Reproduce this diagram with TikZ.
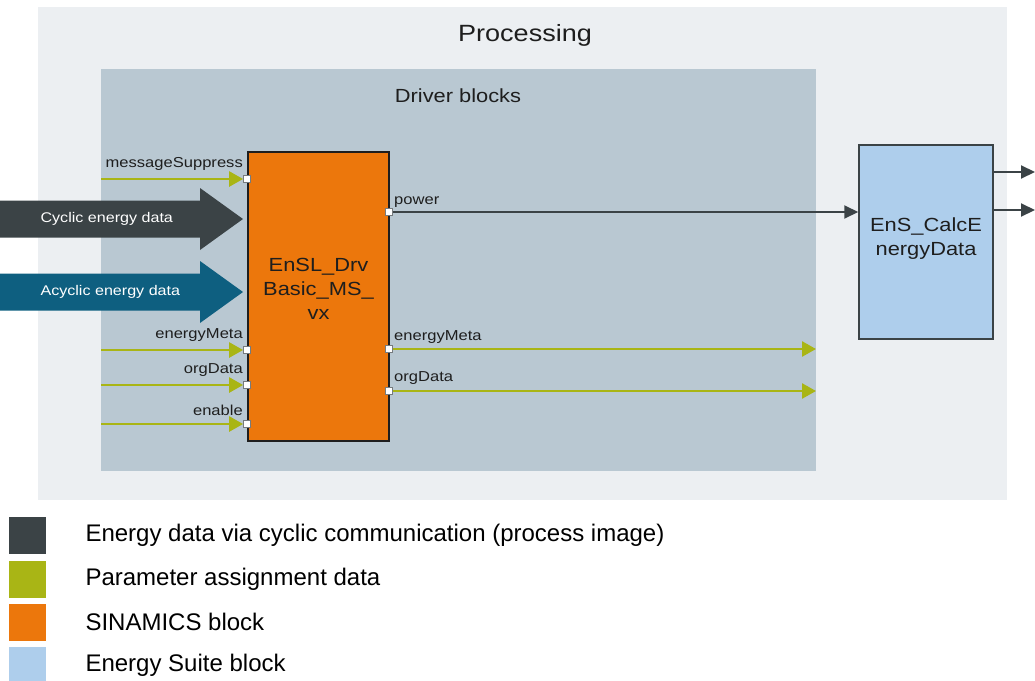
\documentclass[tikz,border=0pt]{standalone}
\usepackage{fontspec}
\setmainfont{Liberation Sans}
\newfontfamily\dfont[FakeStretch=1.15]{Liberation Sans}
\usetikzlibrary{arrows.meta,calc}
\definecolor{procbg}{HTML}{ECEFF2}
\definecolor{drvbg}{HTML}{B9C8D2}
\definecolor{darkc}{HTML}{3B4346}
\definecolor{tealc}{HTML}{0E5F80}
\definecolor{greenc}{HTML}{A9B515}
\definecolor{orangec}{HTML}{EC770C}
\definecolor{bluec}{HTML}{AECEEC}
\definecolor{textc}{HTML}{1E1E1E}
\tikzset{
  port/.style={draw=darkc!70,fill=white,line width=0.8pt,minimum size=7pt,inner sep=0pt},
  param/.style={draw=greenc,line width=2.6pt,-{Triangle[length=14pt,width=15pt]}},
  sig/.style={draw=darkc,line width=2pt,-{Triangle[length=14pt,width=13pt]}},
  lbl/.style={font=\dfont\fontsize{14.4}{16}\selectfont,text=textc,inner sep=1pt},
  blocktxt/.style={font=\dfont\fontsize{19}{24}\selectfont,text=textc,align=center},
  arrtxt/.style={font=\dfont\fontsize{14}{16}\selectfont,text=white,anchor=west},
  legsq/.style={minimum size=37pt,inner sep=0pt},
  legtxt/.style={font=\fontsize{24}{26}\selectfont,text=black,anchor=west},
}
\begin{document}
\begin{tikzpicture}[x=1pt,y=-1pt]
\useasboundingbox (0,0) rectangle (1035,680);
% Processing frame
\fill[procbg] (38,7) rectangle (1007,500);
\node[font=\dfont\fontsize{23.5}{28}\selectfont,text=textc] (proc) at (525,35) {Processing};
% Driver blocks
\fill[drvbg] (101,69) rectangle (816,471);
\node[font=\dfont\fontsize{19}{22}\selectfont,text=textc] (drvlbl) at (458,96) {Driver blocks};
% Big arrows
\fill[darkc] (0,200.5) -- (200,200.5) -- (200,188) -- (243,219) -- (200,250) -- (200,237.5) -- (0,237.5) -- cycle;
\node[arrtxt] (cyc) at (37,219) {Cyclic energy data};
\fill[tealc] (0,273.5) -- (200,273.5) -- (200,261) -- (243,292) -- (200,323) -- (200,310.5) -- (0,310.5) -- cycle;
\node[arrtxt] (acyc) at (37,292) {Acyclic energy data};
% Blocks
\node[draw=textc,line width=1.5pt,fill=orangec,minimum width=141pt,minimum height=289pt,inner sep=0pt] (drv) at (318.5,296.5) {};
\node[blocktxt] at (318.5,289) {EnSL\_Drv\\Basic\_MS\_\\vx};
\node[draw=darkc,line width=1.5pt,fill=bluec,minimum width=134pt,minimum height=194pt,inner sep=0pt] (calc) at (926,242) {};
\node[blocktxt] at (926,239) {EnS\_CalcE\\nergyData};
% Input ports
\node[port] (pms) at (247,179) {};
\node[port] (pem) at (247,350) {};
\node[port] (pod) at (247,385) {};
\node[port] (pen) at (247,424) {};
\coordinate (ims) at (101,179);
\coordinate (iem) at (101,350);
\coordinate (iod) at (101,385);
\coordinate (ien) at (101,424);
\draw[param] (ims) -- (pms.west);
\draw[param] (iem) -- (pem.west);
\draw[param] (iod) -- (pod.west);
\draw[param] (ien) -- (pen.west);
\node[lbl,anchor=south east] at (244,172) {messageSuppress};
\node[lbl,anchor=south east] at (244,343) {energyMeta};
\node[lbl,anchor=south east] at (244,378) {orgData};
\node[lbl,anchor=south east] at (244,417) {enable};
% Output ports
\node[port] (ppw) at (389,212) {};
\node[port] (poem) at (389,349) {};
\node[port] (pood) at (389,391) {};
\coordinate (oem) at (816,349);
\coordinate (ood) at (816,391);
\draw[sig] (ppw.east) -- (calc.west |- ppw);
\draw[param] (poem.east) -- (oem);
\draw[param] (pood.east) -- (ood);
\node[lbl,anchor=south west] at (393,209) {power};
\node[lbl,anchor=south west] at (393,345) {energyMeta};
\node[lbl,anchor=south west] at (393,386) {orgData};
% Outputs of calc block
\coordinate (c1) at (1035,172);
\coordinate (c2) at (1035,210);
\draw[sig] (calc.east |- c1) -- (c1);
\draw[sig] (calc.east |- c2) -- (c2);
% Legend
\node[legsq,fill=darkc] (l1) at (27.5,535) {};
\node[legsq,fill=greenc] (l2) at (27.5,579) {};
\node[legsq,fill=orangec] (l3) at (27.5,622) {};
\node[legsq,fill=bluec] (l4) at (27.5,665.5) {};
\node[legtxt] at (82,535) {Energy data via cyclic communication (process image)};
\node[legtxt] at (82,579) {Parameter assignment data};
\node[legtxt] at (82,622) {SINAMICS block};
\node[legtxt] at (82,665) {Energy Suite block};
\end{tikzpicture}
\end{document}
